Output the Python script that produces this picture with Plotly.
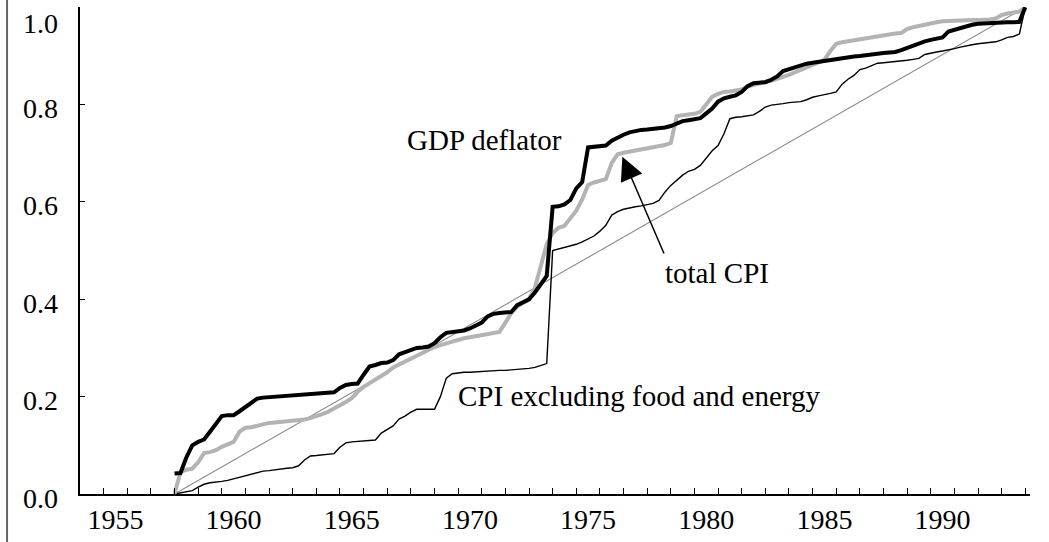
import plotly.graph_objects as go

# Quarterly observations, 1958Q1 .. 1994Q1 (fraction of cumulative change)
quarters = [1958 + 0.25 * k for k in range(145)]

gdp_deflator = [
    0.042, 0.043, 0.075, 0.100,   # 1958
    0.107, 0.112, 0.128, 0.143,   # 1959
    0.160, 0.162, 0.162, 0.170,   # 1960
    0.178, 0.188, 0.196, 0.198,   # 1961
    0.199, 0.200, 0.202, 0.203,   # 1962
    0.204, 0.205, 0.205, 0.206,   # 1963
    0.206, 0.207, 0.208, 0.209,   # 1964
    0.218, 0.224, 0.226, 0.227,   # 1965
    0.245, 0.262, 0.265, 0.269,   # 1966
    0.270, 0.275, 0.287, 0.291,   # 1967
    0.296, 0.300, 0.301, 0.303,   # 1968
    0.310, 0.322, 0.331, 0.332,   # 1969
    0.333, 0.336, 0.340, 0.345,   # 1970
    0.352, 0.365, 0.370, 0.372,   # 1971
    0.373, 0.374, 0.388, 0.393,   # 1972
    0.400, 0.414, 0.432, 0.448,   # 1973
    0.590, 0.591, 0.595, 0.604,   # 1974
    0.628, 0.641, 0.712, 0.714,   # 1975
    0.715, 0.716, 0.726, 0.733,   # 1976
    0.738, 0.743, 0.746, 0.748,   # 1977
    0.749, 0.750, 0.751, 0.753,   # 1978
    0.756, 0.762, 0.766, 0.768,   # 1979
    0.770, 0.772, 0.782, 0.792,   # 1980
    0.806, 0.813, 0.816, 0.819,   # 1981
    0.826, 0.838, 0.844, 0.845,   # 1982
    0.846, 0.851, 0.858, 0.869,   # 1983
    0.873, 0.877, 0.881, 0.884,   # 1984
    0.886, 0.888, 0.890, 0.893,   # 1985
    0.894, 0.896, 0.897, 0.899,   # 1986
    0.900, 0.902, 0.903, 0.905,   # 1987
    0.906, 0.907, 0.908, 0.912,   # 1988
    0.917, 0.922, 0.926, 0.930,   # 1989
    0.933, 0.936, 0.938, 0.950,   # 1990
    0.954, 0.958, 0.961, 0.964,   # 1991
    0.966, 0.967, 0.967, 0.968,   # 1992
    0.968, 0.969, 0.969, 0.970,   # 1993
    1.000,                        # 1994
]

total_cpi = [
    0.000, 0.045, 0.050, 0.052,   # 1958
    0.065, 0.084, 0.086, 0.090,   # 1959
    0.097, 0.101, 0.107, 0.128,   # 1960
    0.136, 0.137, 0.140, 0.144,   # 1961
    0.146, 0.147, 0.148, 0.149,   # 1962
    0.150, 0.151, 0.153, 0.156,   # 1963
    0.159, 0.164, 0.169, 0.175,   # 1964
    0.181, 0.189, 0.197, 0.210,   # 1965
    0.220, 0.227, 0.234, 0.241,   # 1966
    0.250, 0.260, 0.266, 0.273,   # 1967
    0.280, 0.285, 0.292, 0.298,   # 1968
    0.302, 0.306, 0.310, 0.314,   # 1969
    0.317, 0.320, 0.322, 0.324,   # 1970
    0.326, 0.329, 0.331, 0.333,   # 1971
    0.352, 0.372, 0.385, 0.392,   # 1972
    0.400, 0.424, 0.470, 0.513,   # 1973
    0.536, 0.547, 0.551, 0.568,   # 1974
    0.582, 0.605, 0.635, 0.640,   # 1975
    0.644, 0.647, 0.680, 0.698,   # 1976
    0.701, 0.703, 0.705, 0.707,   # 1977
    0.709, 0.711, 0.713, 0.717,   # 1978
    0.721, 0.776, 0.778, 0.779,   # 1979
    0.781, 0.785, 0.800, 0.816,   # 1980
    0.822, 0.826, 0.827, 0.828,   # 1981
    0.831, 0.837, 0.841, 0.845,   # 1982
    0.847, 0.849, 0.852, 0.857,   # 1983
    0.861, 0.866, 0.872, 0.878,   # 1984
    0.883, 0.887, 0.892, 0.910,   # 1985
    0.925, 0.928, 0.930, 0.932,   # 1986
    0.934, 0.936, 0.938, 0.941,   # 1987
    0.944, 0.946, 0.946, 0.947,   # 1988
    0.955, 0.959, 0.962, 0.965,   # 1989
    0.967, 0.969, 0.971, 0.972,   # 1990
    0.972, 0.973, 0.973, 0.974,   # 1991
    0.974, 0.974, 0.975, 0.977,   # 1992
    0.984, 0.987, 0.989, 0.991,   # 1993
    1.000,                        # 1994
]

cpi_ex_food_energy = [
    0.000, 0.002, 0.004, 0.007,   # 1958
    0.014, 0.020, 0.023, 0.024,   # 1959
    0.026, 0.028, 0.031, 0.035,   # 1960
    0.038, 0.041, 0.044, 0.047,   # 1961
    0.048, 0.050, 0.051, 0.053,   # 1962
    0.054, 0.058, 0.070, 0.078,   # 1963
    0.079, 0.080, 0.081, 0.083,   # 1964
    0.096, 0.105, 0.107, 0.108,   # 1965
    0.109, 0.110, 0.111, 0.125,   # 1966
    0.133, 0.140, 0.154, 0.160,   # 1967
    0.168, 0.174, 0.174, 0.174,   # 1968
    0.174, 0.200, 0.238, 0.247,   # 1969
    0.249, 0.250, 0.250, 0.251,   # 1970
    0.251, 0.252, 0.253, 0.254,   # 1971
    0.254, 0.255, 0.255, 0.256,   # 1972
    0.258, 0.260, 0.264, 0.268,   # 1973
    0.500, 0.503, 0.507, 0.510,   # 1974
    0.513, 0.518, 0.524, 0.530,   # 1975
    0.540, 0.552, 0.573, 0.580,   # 1976
    0.585, 0.588, 0.590, 0.592,   # 1977
    0.594, 0.597, 0.603, 0.620,   # 1978
    0.634, 0.645, 0.655, 0.663,   # 1979
    0.667, 0.675, 0.690, 0.705,   # 1980
    0.716, 0.740, 0.771, 0.774,   # 1981
    0.775, 0.777, 0.779, 0.786,   # 1982
    0.795, 0.799, 0.800, 0.802,   # 1983
    0.804, 0.805, 0.806, 0.810,   # 1984
    0.815, 0.818, 0.820, 0.823,   # 1985
    0.826, 0.842, 0.852, 0.860,   # 1986
    0.872, 0.875, 0.880, 0.885,   # 1987
    0.886, 0.887, 0.888, 0.890,   # 1988
    0.891, 0.893, 0.895, 0.903,   # 1989
    0.906, 0.908, 0.910, 0.912,   # 1990
    0.915, 0.918, 0.921, 0.923,   # 1991
    0.925, 0.926, 0.928, 0.929,   # 1992
    0.933, 0.938, 0.940, 0.945,   # 1993
    1.000,                        # 1994
]

# Uniform reference line (45-degree line)
diag_x = [1958.0, 1994.0]
diag_y = [0.0, 1.0]

# Axis labels
year_tick_labels = ["1955", "1960", "1965", "1970", "1975", "1980", "1985", "1990"]
year_label_pos = [int(t) + 0.5 for t in year_tick_labels]   # labels centred in the year
year_tick_marks = list(range(1955, 1995))                  # ticks at year boundaries
y_tick_vals = [0.0, 0.2, 0.4, 0.6, 0.8, 1.0]
y_tick_text = ["0.0", "0.2", "0.4", "0.6", "0.8", "1.0"]

FONT = "Liberation Serif, Times New Roman, serif"

fig = go.Figure()
fig.add_trace(go.Scatter(x=diag_x, y=diag_y, mode="lines",
                         line=dict(color="#8a8a8a", width=1.1), hoverinfo="skip"))
fig.add_trace(go.Scatter(x=quarters, y=cpi_ex_food_energy, mode="lines",
                         line=dict(color="black", width=1.4), name="CPI excluding food and energy"))
fig.add_trace(go.Scatter(x=quarters, y=total_cpi, mode="lines",
                         line=dict(color="#b3b3b3", width=4), name="total CPI"))
fig.add_trace(go.Scatter(x=quarters, y=gdp_deflator, mode="lines",
                         line=dict(color="black", width=4), name="GDP deflator"))

annots = [
    dict(x=1971.1, y=0.727, text="GDP deflator"),
    dict(x=1980.96, y=0.455, text="total CPI"),
    dict(x=1977.66, y=0.201, text="CPI excluding food and energy"),
]
anns = []
for a in annots:
    anns.append(dict(x=a["x"], y=a["y"], xref="x", yref="y", text=a["text"],
                     showarrow=False, xanchor="center", yanchor="middle",
                     font=dict(family=FONT, size=29, color="black")))
# arrow pointing at total CPI
anns.append(dict(x=1976.95, y=0.693, xref="x", yref="y", ax=1978.74, ay=0.491,
                 axref="x", ayref="y", text="", showarrow=True,
                 arrowhead=2, arrowsize=3.1, arrowwidth=1.5, arrowcolor="black",
                 standoff=0))
# y-axis tick labels (placed slightly below their ticks, top one kept inside the page)
for v, t in zip(y_tick_vals, y_tick_text):
    anns.append(dict(x=-0.021, y=v, xref="paper", yref="y", text=t,
                     showarrow=False, xanchor="right", yanchor="middle",
                     yshift=-16 if v == 1.0 else -4,
                     font=dict(family=FONT, size=28, color="black")))

fig.update_layout(
    width=1049, height=542,
    margin=dict(l=80, r=19, t=7, b=48, autoexpand=False),
    paper_bgcolor="white", plot_bgcolor="white",
    showlegend=False,
    font=dict(family=FONT, size=28, color="black"),
    annotations=anns,
    shapes=[dict(type="line", xref="paper", yref="paper",
                 x0=-0.0768, x1=-0.0768, y0=-0.2, y1=1.1,
                 line=dict(color="#666666", width=2))],
)
fig.update_xaxes(
    range=[1954, 1994.2], automargin=False,
    showline=True, linecolor="black", linewidth=1.5,
    showgrid=False, zeroline=False,
    tickmode="array", tickvals=year_label_pos, ticktext=year_tick_labels,
    ticks="", ticklabelstandoff=0,
    tickfont=dict(family=FONT, size=28, color="black"),
    minor=dict(tickmode="array", tickvals=year_tick_marks, ticks="inside",
               ticklen=6, tickwidth=1, tickcolor="black", showgrid=False),
)
fig.update_yaxes(
    range=[0, 1.0005], automargin=False,
    showline=True, linecolor="black", linewidth=1.5,
    showgrid=False, zeroline=False,
    tickmode="array", tickvals=y_tick_vals,
    ticks="inside", ticklen=5, tickwidth=1, tickcolor="black",
    showticklabels=False,
)

fig.write_html("out.html", config={"displayModeBar": False},
               post_script="document.body.style.margin='0px';")
